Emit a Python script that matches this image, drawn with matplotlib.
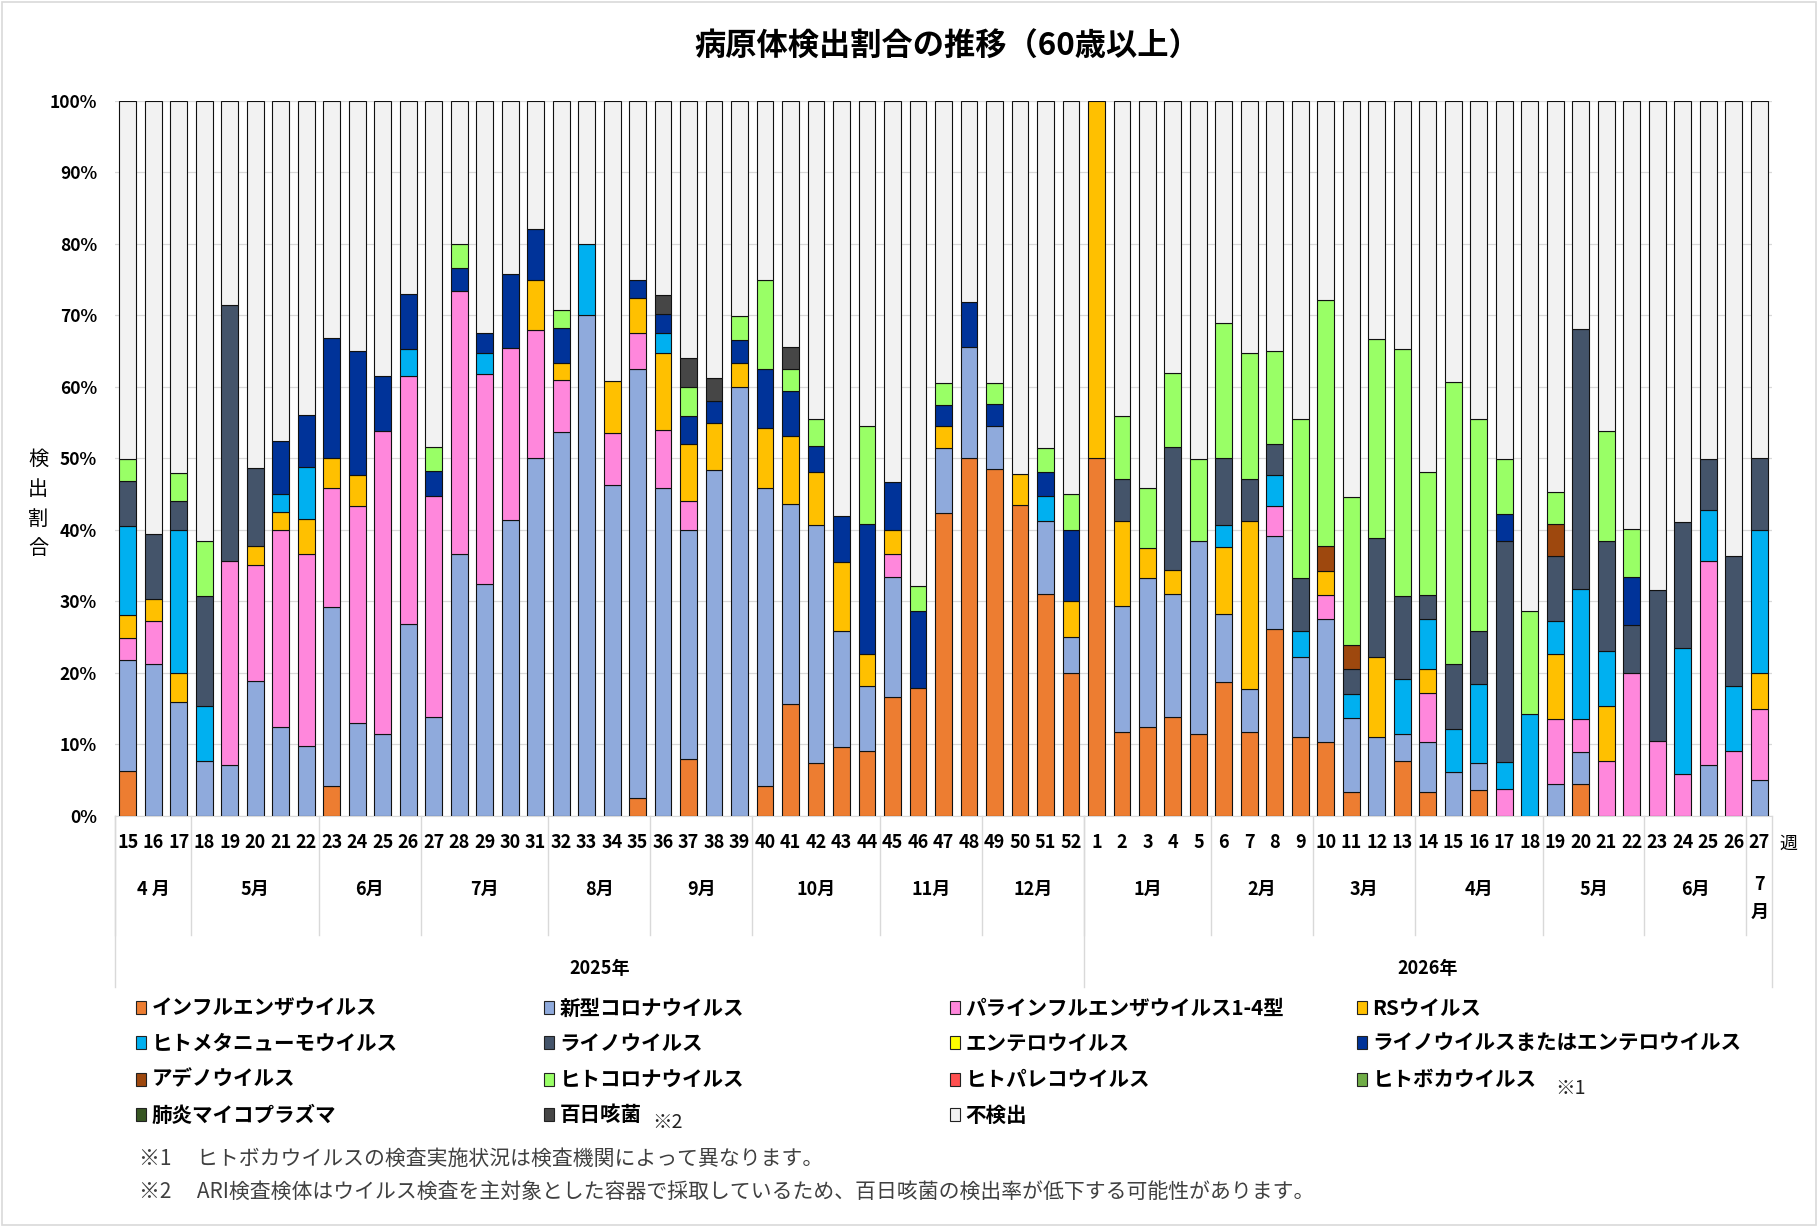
"""
病原体検出割合の推移（60歳以上）
"""
import numpy as np
import matplotlib
matplotlib.use("Agg")
import matplotlib.pyplot as plt
import matplotlib.transforms as mtransforms
from matplotlib.patches import Rectangle

plt.rcParams['font.family'] = ['Noto Sans CJK JP', 'DejaVu Sans']

# 週（2025年15週〜2026年27週）
weeks_2025 = list(range(15, 53))
weeks_2026 = list(range(1, 28))
weeks = weeks_2025 + weeks_2026

# 月ラベルと各月の週数
months_2025 = ['4 月', '5月', '6月', '7月', '8月', '9月', '10月', '11月', '12月']
month_len_2025 = [3, 5, 4, 5, 4, 4, 5, 4, 4]
months_2026 = ['1月', '2月', '3月', '4月', '5月', '6月', '7\n月']
month_len_2026 = [5, 4, 4, 5, 4, 4, 1]

# 検出割合（%）: 2025年15〜52週 + 2026年1〜27週
flu = [6.25, 0, 0, 0, 0, 0, 0, 0, 4.2, 0, 0, 0, 0, 0, 0, 0, 0, 0, 0, 0,
       2.5, 0, 8, 0, 0, 4.2, 15.6, 7.4, 9.7, 9.1, 16.7, 17.9, 42.4, 50, 48.5, 43.5, 31.0, 20,
       50, 11.8, 12.5, 13.8, 11.5, 18.8, 11.8, 26.1, 11.1, 10.3, 3.4, 0, 7.7, 3.4,
       0, 3.7, 0, 0, 0, 4.5, 0, 0, 0, 0, 0, 0, 0]
covid = [15.6, 21.2, 16, 7.7, 7.1, 18.9, 12.5, 9.8, 25.0, 13.0, 11.5, 26.9, 13.8, 36.7, 32.4,
         41.4, 50.0, 53.7, 70, 46.3, 60, 45.9, 32, 48.4, 60, 41.7, 28.1, 33.3, 16.1, 9.1, 16.7,
         0, 9.1, 15.6, 6.1, 0, 10.3, 5,
         0, 17.6, 20.8, 17.2, 26.9, 9.4, 5.9, 13.0, 11.1, 17.2, 10.3, 11.1, 3.8, 6.9,
         6.1, 3.7, 0, 0, 4.5, 4.5, 0, 0, 0, 0, 7.1, 0, 5]
para = [3.1, 6.1, 0, 0, 28.6, 16.2, 27.5, 26.8, 16.7, 30.4, 42.3, 34.6, 31.0, 36.7, 29.4,
        24.1, 17.9, 7.3, 0, 7.3, 5, 8.1, 4, 0, 0, 0, 0, 0, 0, 0, 3.3, 0, 0, 0, 0, 0, 0, 0,
        0, 0, 0, 0, 0, 0, 0, 4.3, 0, 3.4, 0, 0, 0, 6.9,
        0, 0, 3.8, 0, 9.1, 4.5, 7.7, 20, 10.5, 5.9, 28.6, 9.1, 10]
rsv = [3.1, 3.0, 4, 0, 0, 2.7, 2.5, 4.9, 4.2, 4.3, 0, 0, 0, 0, 0, 0, 7.1, 2.4, 0, 7.3,
       5, 10.8, 8, 6.5, 3.3, 8.3, 9.4, 7.4, 9.7, 4.5, 3.3, 0, 3.0, 0, 0, 4.3, 0, 5,
       50, 11.8, 4.2, 3.4, 0, 9.4, 23.5, 0, 0, 3.4, 0, 11.1, 0, 3.4,
       0, 0, 0, 0, 9.1, 0, 7.7, 0, 0, 0, 0, 0, 5]
hmpv = [12.5, 0, 20, 7.7, 0, 0, 2.5, 7.3, 0, 0, 0, 3.8, 0, 0, 2.9, 0, 0, 0, 10, 0,
        0, 2.7, 0, 0, 0, 0, 0, 0, 0, 0, 0, 0, 0, 0, 0, 0, 3.4, 0,
        0, 0, 0, 0, 0, 3.1, 0, 4.3, 3.7, 0, 3.4, 0, 7.7, 6.9,
        6.1, 11.1, 3.8, 14.3, 4.5, 18.2, 7.7, 0, 0, 17.6, 7.1, 9.1, 20]
rhino = [6.25, 9.1, 4, 15.4, 35.7, 10.8, 0, 0, 0, 0, 0, 0, 0, 0, 0, 0, 0, 0, 0, 0,
         0, 0, 0, 0, 0, 0, 0, 0, 0, 0, 0, 0, 0, 0, 0, 0, 0, 0,
         0, 5.9, 0, 17.2, 0, 9.4, 5.9, 4.3, 7.4, 0, 3.4, 16.7, 11.5, 3.4,
         9.1, 7.4, 30.8, 0, 9.1, 36.4, 15.4, 6.7, 21.1, 17.6, 7.1, 18.2, 10]
entero = [0] * 65
rhino_entero = [0, 0, 0, 0, 0, 0, 7.5, 7.3, 16.7, 17.4, 7.7, 7.7, 3.4, 3.3, 2.9, 10.3, 7.1,
                4.9, 0, 0, 2.5, 2.7, 4, 3.2, 3.3, 8.3, 6.3, 3.7, 6.5, 18.2, 6.7, 10.7, 3.0,
                6.3, 3.0, 0, 3.4, 10,
                0, 0, 0, 0, 0, 0, 0, 0, 0, 0, 0, 0, 0, 0,
                0, 0, 3.8, 0, 0, 0, 0, 6.7, 0, 0, 0, 0, 0]
adeno = [0] * 38 + [0, 0, 0, 0, 0, 0, 0, 0, 0, 3.4, 3.4, 0, 0, 0,
                    0, 0, 0, 0, 4.5, 0, 0, 0, 0, 0, 0, 0, 0]
hcov = [3.1, 0, 4, 7.7, 0, 0, 0, 0, 0, 0, 0, 0, 3.4, 3.3, 0, 0, 0, 2.4, 0, 0,
        0, 0, 4, 0, 3.3, 12.5, 3.1, 3.7, 0, 13.6, 0, 3.6, 3.0, 0, 3.0, 0, 3.4, 5,
        0, 8.8, 8.3, 10.3, 11.5, 18.8, 17.6, 13.0, 22.2, 34.5, 20.7, 27.8, 34.6, 17.2,
        39.4, 29.6, 7.7, 14.3, 4.5, 0, 15.4, 6.7, 0, 0, 0, 0, 0]
parecho = [0] * 65
boca = [0] * 65
mycoplasma = [0] * 65
pertussis = [0] * 21 + [2.7, 4, 3.2, 0, 0, 3.1] + [0] * 38

labels = [
    'インフルエンザウイルス', '新型コロナウイルス', 'パラインフルエンザウイルス1-4型', 'RSウイルス',
    'ヒトメタニューモウイルス', 'ライノウイルス', 'エンテロウイルス', 'ライノウイルスまたはエンテロウイルス',
    'アデノウイルス', 'ヒトコロナウイルス', 'ヒトパレコウイルス', 'ヒトボカウイルス',
    '肺炎マイコプラズマ', '百日咳菌', '不検出',
]
colors = [
    '#ED7D31', '#8FAADC', '#FF87DC', '#FFC000',
    '#00B0F0', '#44546A', '#FFFF00', '#003399',
    '#9E480E', '#99FF66', '#FF5050', '#70AD47',
    '#375623', '#464646', '#F2F2F2',
]

series = [flu, covid, para, rsv, hmpv, rhino, entero, rhino_entero,
          adeno, hcov, parecho, boca, mycoplasma, pertussis]
data = np.array(series, dtype=float)
not_detected = 100 - data.sum(axis=0)
data = np.vstack([data, not_detected])

fig = plt.figure(figsize=(18.2, 12.27), dpi=100)
ax = fig.add_axes([0.0632, 0.335, 0.9104, 0.5827])

x = np.arange(len(weeks))
bottom = np.zeros(len(weeks))
for vals, col in zip(data, colors):
    m = vals > 0
    ax.bar(x[m], vals[m], bottom=bottom[m], width=0.66, color=col,
           edgecolor='#111111', linewidth=0.8, zorder=3)
    bottom += vals

ax.set_xlim(-0.5, len(weeks) - 0.5)
ax.set_ylim(0, 100)
ax.set_yticks(np.arange(0, 101, 10))
ax.set_yticklabels([f'{v}%' for v in range(0, 101, 10)], fontsize=12.5, fontweight='bold')
ax.set_xticks(x)
ax.set_xticklabels([str(w) for w in weeks], fontsize=13, fontweight='bold')
ax.tick_params(axis='both', length=0)
ax.tick_params(axis='x', pad=12)
ax.tick_params(axis='y', pad=13)
ax.grid(axis='y', color='#D9D9D9', linewidth=0.9, zorder=0)
for s in ['top', 'right', 'left']:
    ax.spines[s].set_visible(False)
ax.spines['bottom'].set_color('#D9D9D9')

# 月・年のラベルと区切り線
trans = mtransforms.blended_transform_factory(ax.transData, ax.transAxes)
line_kw = dict(color='#D9D9D9', linewidth=1.0, transform=trans, clip_on=False)

start = -0.5
for name, n in zip(months_2025 + months_2026, month_len_2025 + month_len_2026):
    center = start + n / 2
    ax.text(center, -0.103 if '\n' not in name else -0.115, name, transform=trans,
            ha='center', va='center', fontsize=13, fontweight='bold', linespacing=1.6)
    ax.plot([start, start], [0, -0.166], **line_kw)
    start += n

year_edges = [-0.5, len(weeks_2025) - 0.5, len(weeks) - 0.5]
for e in year_edges:
    ax.plot([e, e], [0, -0.239], **line_kw)
ax.text((year_edges[0] + year_edges[1]) / 2, -0.213, '2025年', transform=trans,
        ha='center', va='center', fontsize=13, fontweight='bold')
ax.text((year_edges[1] + year_edges[2]) / 2, -0.213, '2026年', transform=trans,
        ha='center', va='center', fontsize=13, fontweight='bold')
ax.text(len(weeks) + 0.15, -0.039, '週', transform=trans,
        ha='center', va='center', fontsize=13)

# タイトル・軸ラベル
fig.text(0.5205, 0.962, '病原体検出割合の推移（60歳以上）', ha='center', va='center',
         fontsize=22.5, fontweight='bold')
fig.text(0.021, 0.589, '検\n出\n割\n合', ha='center', va='center',
         fontsize=14.5, linespacing=1.55)

# 凡例（4列）
col_x = [0.0747, 0.299, 0.522, 0.7456]
row_y = [0.1785, 0.150, 0.1206, 0.0913]
for i, (lab, col) in enumerate(zip(labels, colors)):
    cx = col_x[i % 4]
    cy = row_y[i // 4]
    fig.patches.append(Rectangle((cx, cy - 0.0053), 0.0055, 0.0106, facecolor=col,
                                 edgecolor='#222222', linewidth=0.8,
                                 transform=fig.transFigure, figure=fig))
    fig.text(cx + 0.0085, cy, lab, ha='left', va='center', fontsize=14.8, fontweight='bold')

fig.text(0.863, 0.113, '※1', ha='center', va='center', fontsize=14, color='#222222')
fig.text(0.367, 0.0855, '※2', ha='center', va='center', fontsize=14, color='#222222')

# 注釈
fig.text(0.0765, 0.0554, '※1　 ヒトボカウイルスの検査実施状況は検査機関によって異なります。',
         ha='left', va='center', fontsize=15, color='#404040')
fig.text(0.0765, 0.0285, '※2　 ARI検査検体はウイルス検査を主対象とした容器で採取しているため、'
         '百日咳菌の検出率が低下する可能性があります。',
         ha='left', va='center', fontsize=15, color='#404040')

# 外枠
fig.patches.append(Rectangle((0.001, 0.002), 0.997, 0.996, facecolor='none',
                             edgecolor='#D9D9D9', linewidth=1.2,
                             transform=fig.transFigure, figure=fig))

fig.savefig('out.png', dpi=100)
plt.close(fig)
